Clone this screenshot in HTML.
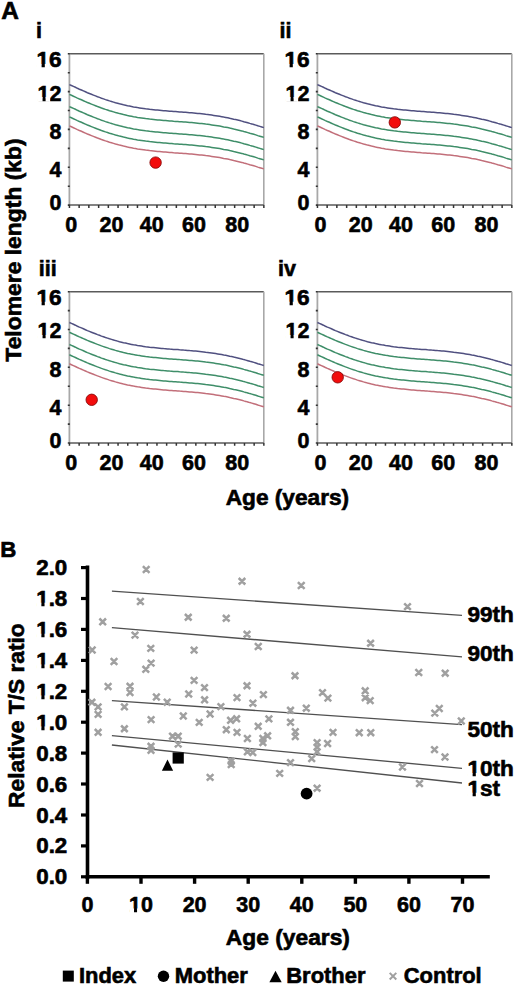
<!DOCTYPE html>
<html><head><meta charset="utf-8"><style>
html,body{margin:0;padding:0;background:#fff;}
svg{display:block;}
text{font-family:"Liberation Sans",sans-serif;font-weight:bold;fill:#000;stroke:#000;stroke-width:0.6px;}
</style></head><body>
<svg width="520" height="986" viewBox="0 0 520 986">
<rect width="520" height="986" fill="#fff"/>
<g transform="translate(0,0)">
<line x1="69.4" y1="53.8" x2="263.8" y2="53.8" stroke="#5a5a5a" stroke-width="1.4"/>
<line x1="263.8" y1="53.8" x2="263.8" y2="205.1" stroke="#a8a8a8" stroke-width="1.6"/>
<line x1="69.4" y1="53.8" x2="69.4" y2="205.1" stroke="#a8a8a8" stroke-width="1.8"/>
<line x1="69.4" y1="205.1" x2="263.8" y2="205.1" stroke="#5a5a5a" stroke-width="1.5"/>
<path d="M67.8,204.3h2v1.6h-2zM67.8,185.4h2v1.6h-2zM67.8,166.5h2v1.6h-2zM67.8,147.6h2v1.6h-2zM67.8,128.6h2v1.6h-2zM67.8,109.7h2v1.6h-2zM67.8,90.8h2v1.6h-2zM67.8,71.9h2v1.6h-2zM67.8,53.0h2v1.6h-2zM68.7,205.1h1.5v2.8h-1.5zM78.4,205.1h1.5v2.8h-1.5zM88.1,205.1h1.5v2.8h-1.5zM97.9,205.1h1.5v2.8h-1.5zM107.6,205.1h1.5v2.8h-1.5zM117.3,205.1h1.5v2.8h-1.5zM127.0,205.1h1.5v2.8h-1.5zM136.7,205.1h1.5v2.8h-1.5zM146.5,205.1h1.5v2.8h-1.5zM156.2,205.1h1.5v2.8h-1.5zM165.9,205.1h1.5v2.8h-1.5zM175.6,205.1h1.5v2.8h-1.5zM185.3,205.1h1.5v2.8h-1.5zM195.1,205.1h1.5v2.8h-1.5zM204.8,205.1h1.5v2.8h-1.5zM214.5,205.1h1.5v2.8h-1.5zM224.2,205.1h1.5v2.8h-1.5zM233.9,205.1h1.5v2.8h-1.5zM243.7,205.1h1.5v2.8h-1.5zM253.4,205.1h1.5v2.8h-1.5zM263.1,205.1h1.5v2.8h-1.5z" fill="#333"/>
<polyline points="69.4,84.6 71.4,85.5 73.4,86.4 75.4,87.3 77.4,88.3 79.4,89.2 81.4,90.0 83.4,90.9 85.4,91.8 87.4,92.7 89.4,93.5 91.4,94.3 93.4,95.1 95.5,95.9 97.5,96.7 99.5,97.4 101.5,98.2 103.5,98.9 105.5,99.6 107.5,100.2 109.5,100.9 111.5,101.5 113.5,102.1 115.5,102.7 117.5,103.2 119.5,103.8 121.5,104.3 123.5,104.8 125.5,105.2 127.5,105.7 129.5,106.1 131.5,106.5 133.5,106.9 135.5,107.2 137.5,107.6 139.5,107.9 141.5,108.2 143.6,108.5 145.6,108.8 147.6,109.0 149.6,109.3 151.6,109.5 153.6,109.7 155.6,109.9 157.6,110.1 159.6,110.3 161.6,110.5 163.6,110.7 165.6,110.8 167.6,111.0 169.6,111.2 171.6,111.3 173.6,111.5 175.6,111.6 177.6,111.7 179.6,111.9 181.6,112.0 183.6,112.2 185.6,112.3 187.6,112.5 189.6,112.7 191.7,112.8 193.7,113.0 195.7,113.2 197.7,113.4 199.7,113.6 201.7,113.8 203.7,114.0 205.7,114.3 207.7,114.5 209.7,114.8 211.7,115.1 213.7,115.4 215.7,115.7 217.7,116.0 219.7,116.3 221.7,116.7 223.7,117.1 225.7,117.4 227.7,117.8 229.7,118.3 231.7,118.7 233.7,119.2 235.7,119.6 237.7,120.1 239.8,120.6 241.8,121.1 243.8,121.7 245.8,122.2 247.8,122.8 249.8,123.4 251.8,123.9 253.8,124.5 255.8,125.1 257.8,125.8 259.8,126.4 261.8,127.0 263.8,127.6" fill="none" stroke="#505080" stroke-width="1.5"/>
<polyline points="69.4,94.4 71.4,95.3 73.4,96.2 75.4,97.1 77.4,98.1 79.4,99.0 81.4,99.8 83.4,100.7 85.4,101.6 87.4,102.5 89.4,103.3 91.4,104.1 93.4,104.9 95.5,105.7 97.5,106.5 99.5,107.2 101.5,108.0 103.5,108.7 105.5,109.4 107.5,110.0 109.5,110.7 111.5,111.3 113.5,111.9 115.5,112.5 117.5,113.0 119.5,113.6 121.5,114.1 123.5,114.6 125.5,115.0 127.5,115.5 129.5,115.9 131.5,116.3 133.5,116.7 135.5,117.0 137.5,117.4 139.5,117.7 141.5,118.0 143.6,118.3 145.6,118.6 147.6,118.8 149.6,119.1 151.6,119.3 153.6,119.5 155.6,119.7 157.6,119.9 159.6,120.1 161.6,120.3 163.6,120.5 165.6,120.6 167.6,120.8 169.6,121.0 171.6,121.1 173.6,121.3 175.6,121.4 177.6,121.5 179.6,121.7 181.6,121.8 183.6,122.0 185.6,122.1 187.6,122.3 189.6,122.5 191.7,122.6 193.7,122.8 195.7,123.0 197.7,123.2 199.7,123.4 201.7,123.6 203.7,123.8 205.7,124.1 207.7,124.3 209.7,124.6 211.7,124.9 213.7,125.2 215.7,125.5 217.7,125.8 219.7,126.1 221.7,126.5 223.7,126.9 225.7,127.2 227.7,127.6 229.7,128.1 231.7,128.5 233.7,129.0 235.7,129.4 237.7,129.9 239.8,130.4 241.8,130.9 243.8,131.5 245.8,132.0 247.8,132.6 249.8,133.2 251.8,133.7 253.8,134.3 255.8,134.9 257.8,135.6 259.8,136.2 261.8,136.8 263.8,137.4" fill="none" stroke="#3f8e69" stroke-width="1.5"/>
<polyline points="69.4,106.6 71.4,107.5 73.4,108.4 75.4,109.3 77.4,110.3 79.4,111.2 81.4,112.0 83.4,112.9 85.4,113.8 87.4,114.7 89.4,115.5 91.4,116.3 93.4,117.1 95.5,117.9 97.5,118.7 99.5,119.4 101.5,120.2 103.5,120.9 105.5,121.6 107.5,122.2 109.5,122.9 111.5,123.5 113.5,124.1 115.5,124.7 117.5,125.2 119.5,125.8 121.5,126.3 123.5,126.8 125.5,127.2 127.5,127.7 129.5,128.1 131.5,128.5 133.5,128.9 135.5,129.2 137.5,129.6 139.5,129.9 141.5,130.2 143.6,130.5 145.6,130.8 147.6,131.0 149.6,131.3 151.6,131.5 153.6,131.7 155.6,131.9 157.6,132.1 159.6,132.3 161.6,132.5 163.6,132.7 165.6,132.8 167.6,133.0 169.6,133.2 171.6,133.3 173.6,133.5 175.6,133.6 177.6,133.7 179.6,133.9 181.6,134.0 183.6,134.2 185.6,134.3 187.6,134.5 189.6,134.7 191.7,134.8 193.7,135.0 195.7,135.2 197.7,135.4 199.7,135.6 201.7,135.8 203.7,136.0 205.7,136.3 207.7,136.5 209.7,136.8 211.7,137.1 213.7,137.4 215.7,137.7 217.7,138.0 219.7,138.3 221.7,138.7 223.7,139.1 225.7,139.4 227.7,139.8 229.7,140.3 231.7,140.7 233.7,141.2 235.7,141.6 237.7,142.1 239.8,142.6 241.8,143.1 243.8,143.7 245.8,144.2 247.8,144.8 249.8,145.4 251.8,145.9 253.8,146.5 255.8,147.1 257.8,147.8 259.8,148.4 261.8,149.0 263.8,149.6" fill="none" stroke="#3f8e69" stroke-width="1.5"/>
<polyline points="69.4,116.9 71.4,117.8 73.4,118.7 75.4,119.6 77.4,120.6 79.4,121.5 81.4,122.3 83.4,123.2 85.4,124.1 87.4,125.0 89.4,125.8 91.4,126.6 93.4,127.4 95.5,128.2 97.5,129.0 99.5,129.7 101.5,130.5 103.5,131.2 105.5,131.9 107.5,132.5 109.5,133.2 111.5,133.8 113.5,134.4 115.5,135.0 117.5,135.5 119.5,136.1 121.5,136.6 123.5,137.1 125.5,137.5 127.5,138.0 129.5,138.4 131.5,138.8 133.5,139.2 135.5,139.5 137.5,139.9 139.5,140.2 141.5,140.5 143.6,140.8 145.6,141.1 147.6,141.3 149.6,141.6 151.6,141.8 153.6,142.0 155.6,142.2 157.6,142.4 159.6,142.6 161.6,142.8 163.6,143.0 165.6,143.1 167.6,143.3 169.6,143.5 171.6,143.6 173.6,143.8 175.6,143.9 177.6,144.0 179.6,144.2 181.6,144.3 183.6,144.5 185.6,144.6 187.6,144.8 189.6,145.0 191.7,145.1 193.7,145.3 195.7,145.5 197.7,145.7 199.7,145.9 201.7,146.1 203.7,146.3 205.7,146.6 207.7,146.8 209.7,147.1 211.7,147.4 213.7,147.7 215.7,148.0 217.7,148.3 219.7,148.6 221.7,149.0 223.7,149.4 225.7,149.7 227.7,150.1 229.7,150.6 231.7,151.0 233.7,151.5 235.7,151.9 237.7,152.4 239.8,152.9 241.8,153.4 243.8,154.0 245.8,154.5 247.8,155.1 249.8,155.7 251.8,156.2 253.8,156.8 255.8,157.4 257.8,158.1 259.8,158.7 261.8,159.3 263.8,159.9" fill="none" stroke="#3f8e69" stroke-width="1.5"/>
<polyline points="69.4,125.9 71.4,126.8 73.4,127.7 75.4,128.6 77.4,129.6 79.4,130.5 81.4,131.3 83.4,132.2 85.4,133.1 87.4,134.0 89.4,134.8 91.4,135.6 93.4,136.4 95.5,137.2 97.5,138.0 99.5,138.7 101.5,139.5 103.5,140.2 105.5,140.9 107.5,141.5 109.5,142.2 111.5,142.8 113.5,143.4 115.5,144.0 117.5,144.5 119.5,145.1 121.5,145.6 123.5,146.1 125.5,146.5 127.5,147.0 129.5,147.4 131.5,147.8 133.5,148.2 135.5,148.5 137.5,148.9 139.5,149.2 141.5,149.5 143.6,149.8 145.6,150.1 147.6,150.3 149.6,150.6 151.6,150.8 153.6,151.0 155.6,151.2 157.6,151.4 159.6,151.6 161.6,151.8 163.6,152.0 165.6,152.1 167.6,152.3 169.6,152.5 171.6,152.6 173.6,152.8 175.6,152.9 177.6,153.0 179.6,153.2 181.6,153.3 183.6,153.5 185.6,153.6 187.6,153.8 189.6,154.0 191.7,154.1 193.7,154.3 195.7,154.5 197.7,154.7 199.7,154.9 201.7,155.1 203.7,155.3 205.7,155.6 207.7,155.8 209.7,156.1 211.7,156.4 213.7,156.7 215.7,157.0 217.7,157.3 219.7,157.6 221.7,158.0 223.7,158.4 225.7,158.7 227.7,159.1 229.7,159.6 231.7,160.0 233.7,160.5 235.7,160.9 237.7,161.4 239.8,161.9 241.8,162.4 243.8,163.0 245.8,163.5 247.8,164.1 249.8,164.7 251.8,165.2 253.8,165.8 255.8,166.4 257.8,167.1 259.8,167.7 261.8,168.3 263.8,168.9" fill="none" stroke="#c26f7a" stroke-width="1.5"/>
</g>
<text transform="translate(61.50,67.30) scale(1.050,1.030)" text-anchor="end" font-size="21.5">16</text>
<text transform="translate(61.50,100.50) scale(1.000,1.030)" text-anchor="end" font-size="21.5">12</text>
<text transform="translate(61.50,139.20) scale(1.000,1.030)" text-anchor="end" font-size="21.5">8</text>
<text transform="translate(61.50,177.20) scale(1.000,1.030)" text-anchor="end" font-size="21.5">4</text>
<text transform="translate(61.50,210.30) scale(1.000,1.030)" text-anchor="end" font-size="21.5">0</text>
<text transform="translate(71.10,231.60) scale(1.000,1.030)" text-anchor="middle" font-size="21.5">0</text>
<text transform="translate(111.50,231.60) scale(1.000,1.030)" text-anchor="middle" font-size="21.5">20</text>
<text transform="translate(151.70,231.60) scale(1.000,1.030)" text-anchor="middle" font-size="21.5">40</text>
<text transform="translate(194.00,231.60) scale(1.000,1.030)" text-anchor="middle" font-size="21.5">60</text>
<text transform="translate(237.20,231.60) scale(1.000,1.030)" text-anchor="middle" font-size="21.5">80</text>
<text transform="translate(36.00,38.00) scale(1.000,1.030)" font-size="21.5">i</text>
<circle cx="155.6" cy="162.6" r="5.7" fill="#f20c0c" stroke="#8a0a0a" stroke-width="0.9"/>
<g transform="translate(248,0)">
<line x1="69.4" y1="53.8" x2="263.8" y2="53.8" stroke="#5a5a5a" stroke-width="1.4"/>
<line x1="263.8" y1="53.8" x2="263.8" y2="205.1" stroke="#a8a8a8" stroke-width="1.6"/>
<line x1="69.4" y1="53.8" x2="69.4" y2="205.1" stroke="#a8a8a8" stroke-width="1.8"/>
<line x1="69.4" y1="205.1" x2="263.8" y2="205.1" stroke="#5a5a5a" stroke-width="1.5"/>
<path d="M67.8,204.3h2v1.6h-2zM67.8,185.4h2v1.6h-2zM67.8,166.5h2v1.6h-2zM67.8,147.6h2v1.6h-2zM67.8,128.6h2v1.6h-2zM67.8,109.7h2v1.6h-2zM67.8,90.8h2v1.6h-2zM67.8,71.9h2v1.6h-2zM67.8,53.0h2v1.6h-2zM68.7,205.1h1.5v2.8h-1.5zM78.4,205.1h1.5v2.8h-1.5zM88.1,205.1h1.5v2.8h-1.5zM97.9,205.1h1.5v2.8h-1.5zM107.6,205.1h1.5v2.8h-1.5zM117.3,205.1h1.5v2.8h-1.5zM127.0,205.1h1.5v2.8h-1.5zM136.7,205.1h1.5v2.8h-1.5zM146.5,205.1h1.5v2.8h-1.5zM156.2,205.1h1.5v2.8h-1.5zM165.9,205.1h1.5v2.8h-1.5zM175.6,205.1h1.5v2.8h-1.5zM185.3,205.1h1.5v2.8h-1.5zM195.1,205.1h1.5v2.8h-1.5zM204.8,205.1h1.5v2.8h-1.5zM214.5,205.1h1.5v2.8h-1.5zM224.2,205.1h1.5v2.8h-1.5zM233.9,205.1h1.5v2.8h-1.5zM243.7,205.1h1.5v2.8h-1.5zM253.4,205.1h1.5v2.8h-1.5zM263.1,205.1h1.5v2.8h-1.5z" fill="#333"/>
<polyline points="69.4,84.6 71.4,85.5 73.4,86.4 75.4,87.3 77.4,88.3 79.4,89.2 81.4,90.0 83.4,90.9 85.4,91.8 87.4,92.7 89.4,93.5 91.4,94.3 93.4,95.1 95.5,95.9 97.5,96.7 99.5,97.4 101.5,98.2 103.5,98.9 105.5,99.6 107.5,100.2 109.5,100.9 111.5,101.5 113.5,102.1 115.5,102.7 117.5,103.2 119.5,103.8 121.5,104.3 123.5,104.8 125.5,105.2 127.5,105.7 129.5,106.1 131.5,106.5 133.5,106.9 135.5,107.2 137.5,107.6 139.5,107.9 141.5,108.2 143.6,108.5 145.6,108.8 147.6,109.0 149.6,109.3 151.6,109.5 153.6,109.7 155.6,109.9 157.6,110.1 159.6,110.3 161.6,110.5 163.6,110.7 165.6,110.8 167.6,111.0 169.6,111.2 171.6,111.3 173.6,111.5 175.6,111.6 177.6,111.7 179.6,111.9 181.6,112.0 183.6,112.2 185.6,112.3 187.6,112.5 189.6,112.7 191.7,112.8 193.7,113.0 195.7,113.2 197.7,113.4 199.7,113.6 201.7,113.8 203.7,114.0 205.7,114.3 207.7,114.5 209.7,114.8 211.7,115.1 213.7,115.4 215.7,115.7 217.7,116.0 219.7,116.3 221.7,116.7 223.7,117.1 225.7,117.4 227.7,117.8 229.7,118.3 231.7,118.7 233.7,119.2 235.7,119.6 237.7,120.1 239.8,120.6 241.8,121.1 243.8,121.7 245.8,122.2 247.8,122.8 249.8,123.4 251.8,123.9 253.8,124.5 255.8,125.1 257.8,125.8 259.8,126.4 261.8,127.0 263.8,127.6" fill="none" stroke="#505080" stroke-width="1.5"/>
<polyline points="69.4,94.4 71.4,95.3 73.4,96.2 75.4,97.1 77.4,98.1 79.4,99.0 81.4,99.8 83.4,100.7 85.4,101.6 87.4,102.5 89.4,103.3 91.4,104.1 93.4,104.9 95.5,105.7 97.5,106.5 99.5,107.2 101.5,108.0 103.5,108.7 105.5,109.4 107.5,110.0 109.5,110.7 111.5,111.3 113.5,111.9 115.5,112.5 117.5,113.0 119.5,113.6 121.5,114.1 123.5,114.6 125.5,115.0 127.5,115.5 129.5,115.9 131.5,116.3 133.5,116.7 135.5,117.0 137.5,117.4 139.5,117.7 141.5,118.0 143.6,118.3 145.6,118.6 147.6,118.8 149.6,119.1 151.6,119.3 153.6,119.5 155.6,119.7 157.6,119.9 159.6,120.1 161.6,120.3 163.6,120.5 165.6,120.6 167.6,120.8 169.6,121.0 171.6,121.1 173.6,121.3 175.6,121.4 177.6,121.5 179.6,121.7 181.6,121.8 183.6,122.0 185.6,122.1 187.6,122.3 189.6,122.5 191.7,122.6 193.7,122.8 195.7,123.0 197.7,123.2 199.7,123.4 201.7,123.6 203.7,123.8 205.7,124.1 207.7,124.3 209.7,124.6 211.7,124.9 213.7,125.2 215.7,125.5 217.7,125.8 219.7,126.1 221.7,126.5 223.7,126.9 225.7,127.2 227.7,127.6 229.7,128.1 231.7,128.5 233.7,129.0 235.7,129.4 237.7,129.9 239.8,130.4 241.8,130.9 243.8,131.5 245.8,132.0 247.8,132.6 249.8,133.2 251.8,133.7 253.8,134.3 255.8,134.9 257.8,135.6 259.8,136.2 261.8,136.8 263.8,137.4" fill="none" stroke="#3f8e69" stroke-width="1.5"/>
<polyline points="69.4,106.6 71.4,107.5 73.4,108.4 75.4,109.3 77.4,110.3 79.4,111.2 81.4,112.0 83.4,112.9 85.4,113.8 87.4,114.7 89.4,115.5 91.4,116.3 93.4,117.1 95.5,117.9 97.5,118.7 99.5,119.4 101.5,120.2 103.5,120.9 105.5,121.6 107.5,122.2 109.5,122.9 111.5,123.5 113.5,124.1 115.5,124.7 117.5,125.2 119.5,125.8 121.5,126.3 123.5,126.8 125.5,127.2 127.5,127.7 129.5,128.1 131.5,128.5 133.5,128.9 135.5,129.2 137.5,129.6 139.5,129.9 141.5,130.2 143.6,130.5 145.6,130.8 147.6,131.0 149.6,131.3 151.6,131.5 153.6,131.7 155.6,131.9 157.6,132.1 159.6,132.3 161.6,132.5 163.6,132.7 165.6,132.8 167.6,133.0 169.6,133.2 171.6,133.3 173.6,133.5 175.6,133.6 177.6,133.7 179.6,133.9 181.6,134.0 183.6,134.2 185.6,134.3 187.6,134.5 189.6,134.7 191.7,134.8 193.7,135.0 195.7,135.2 197.7,135.4 199.7,135.6 201.7,135.8 203.7,136.0 205.7,136.3 207.7,136.5 209.7,136.8 211.7,137.1 213.7,137.4 215.7,137.7 217.7,138.0 219.7,138.3 221.7,138.7 223.7,139.1 225.7,139.4 227.7,139.8 229.7,140.3 231.7,140.7 233.7,141.2 235.7,141.6 237.7,142.1 239.8,142.6 241.8,143.1 243.8,143.7 245.8,144.2 247.8,144.8 249.8,145.4 251.8,145.9 253.8,146.5 255.8,147.1 257.8,147.8 259.8,148.4 261.8,149.0 263.8,149.6" fill="none" stroke="#3f8e69" stroke-width="1.5"/>
<polyline points="69.4,116.9 71.4,117.8 73.4,118.7 75.4,119.6 77.4,120.6 79.4,121.5 81.4,122.3 83.4,123.2 85.4,124.1 87.4,125.0 89.4,125.8 91.4,126.6 93.4,127.4 95.5,128.2 97.5,129.0 99.5,129.7 101.5,130.5 103.5,131.2 105.5,131.9 107.5,132.5 109.5,133.2 111.5,133.8 113.5,134.4 115.5,135.0 117.5,135.5 119.5,136.1 121.5,136.6 123.5,137.1 125.5,137.5 127.5,138.0 129.5,138.4 131.5,138.8 133.5,139.2 135.5,139.5 137.5,139.9 139.5,140.2 141.5,140.5 143.6,140.8 145.6,141.1 147.6,141.3 149.6,141.6 151.6,141.8 153.6,142.0 155.6,142.2 157.6,142.4 159.6,142.6 161.6,142.8 163.6,143.0 165.6,143.1 167.6,143.3 169.6,143.5 171.6,143.6 173.6,143.8 175.6,143.9 177.6,144.0 179.6,144.2 181.6,144.3 183.6,144.5 185.6,144.6 187.6,144.8 189.6,145.0 191.7,145.1 193.7,145.3 195.7,145.5 197.7,145.7 199.7,145.9 201.7,146.1 203.7,146.3 205.7,146.6 207.7,146.8 209.7,147.1 211.7,147.4 213.7,147.7 215.7,148.0 217.7,148.3 219.7,148.6 221.7,149.0 223.7,149.4 225.7,149.7 227.7,150.1 229.7,150.6 231.7,151.0 233.7,151.5 235.7,151.9 237.7,152.4 239.8,152.9 241.8,153.4 243.8,154.0 245.8,154.5 247.8,155.1 249.8,155.7 251.8,156.2 253.8,156.8 255.8,157.4 257.8,158.1 259.8,158.7 261.8,159.3 263.8,159.9" fill="none" stroke="#3f8e69" stroke-width="1.5"/>
<polyline points="69.4,125.9 71.4,126.8 73.4,127.7 75.4,128.6 77.4,129.6 79.4,130.5 81.4,131.3 83.4,132.2 85.4,133.1 87.4,134.0 89.4,134.8 91.4,135.6 93.4,136.4 95.5,137.2 97.5,138.0 99.5,138.7 101.5,139.5 103.5,140.2 105.5,140.9 107.5,141.5 109.5,142.2 111.5,142.8 113.5,143.4 115.5,144.0 117.5,144.5 119.5,145.1 121.5,145.6 123.5,146.1 125.5,146.5 127.5,147.0 129.5,147.4 131.5,147.8 133.5,148.2 135.5,148.5 137.5,148.9 139.5,149.2 141.5,149.5 143.6,149.8 145.6,150.1 147.6,150.3 149.6,150.6 151.6,150.8 153.6,151.0 155.6,151.2 157.6,151.4 159.6,151.6 161.6,151.8 163.6,152.0 165.6,152.1 167.6,152.3 169.6,152.5 171.6,152.6 173.6,152.8 175.6,152.9 177.6,153.0 179.6,153.2 181.6,153.3 183.6,153.5 185.6,153.6 187.6,153.8 189.6,154.0 191.7,154.1 193.7,154.3 195.7,154.5 197.7,154.7 199.7,154.9 201.7,155.1 203.7,155.3 205.7,155.6 207.7,155.8 209.7,156.1 211.7,156.4 213.7,156.7 215.7,157.0 217.7,157.3 219.7,157.6 221.7,158.0 223.7,158.4 225.7,158.7 227.7,159.1 229.7,159.6 231.7,160.0 233.7,160.5 235.7,160.9 237.7,161.4 239.8,161.9 241.8,162.4 243.8,163.0 245.8,163.5 247.8,164.1 249.8,164.7 251.8,165.2 253.8,165.8 255.8,166.4 257.8,167.1 259.8,167.7 261.8,168.3 263.8,168.9" fill="none" stroke="#c26f7a" stroke-width="1.5"/>
</g>
<text transform="translate(309.50,67.30) scale(1.050,1.030)" text-anchor="end" font-size="21.5">16</text>
<text transform="translate(309.50,100.50) scale(1.000,1.030)" text-anchor="end" font-size="21.5">12</text>
<text transform="translate(309.50,139.20) scale(1.000,1.030)" text-anchor="end" font-size="21.5">8</text>
<text transform="translate(309.50,177.20) scale(1.000,1.030)" text-anchor="end" font-size="21.5">4</text>
<text transform="translate(309.50,210.30) scale(1.000,1.030)" text-anchor="end" font-size="21.5">0</text>
<text transform="translate(320.40,231.60) scale(1.000,1.030)" text-anchor="middle" font-size="21.5">0</text>
<text transform="translate(360.80,231.60) scale(1.000,1.030)" text-anchor="middle" font-size="21.5">20</text>
<text transform="translate(401.00,231.60) scale(1.000,1.030)" text-anchor="middle" font-size="21.5">40</text>
<text transform="translate(443.30,231.60) scale(1.000,1.030)" text-anchor="middle" font-size="21.5">60</text>
<text transform="translate(486.50,231.60) scale(1.000,1.030)" text-anchor="middle" font-size="21.5">80</text>
<text transform="translate(279.50,38.30) scale(1.000,1.030)" font-size="21.5">ii</text>
<circle cx="394.8" cy="122.4" r="5.7" fill="#f20c0c" stroke="#8a0a0a" stroke-width="0.9"/>
<g transform="translate(0,237.9)">
<line x1="69.4" y1="53.8" x2="263.8" y2="53.8" stroke="#5a5a5a" stroke-width="1.4"/>
<line x1="263.8" y1="53.8" x2="263.8" y2="205.1" stroke="#a8a8a8" stroke-width="1.6"/>
<line x1="69.4" y1="53.8" x2="69.4" y2="205.1" stroke="#a8a8a8" stroke-width="1.8"/>
<line x1="69.4" y1="205.1" x2="263.8" y2="205.1" stroke="#5a5a5a" stroke-width="1.5"/>
<path d="M67.8,204.3h2v1.6h-2zM67.8,185.4h2v1.6h-2zM67.8,166.5h2v1.6h-2zM67.8,147.6h2v1.6h-2zM67.8,128.6h2v1.6h-2zM67.8,109.7h2v1.6h-2zM67.8,90.8h2v1.6h-2zM67.8,71.9h2v1.6h-2zM67.8,53.0h2v1.6h-2zM68.7,205.1h1.5v2.8h-1.5zM78.4,205.1h1.5v2.8h-1.5zM88.1,205.1h1.5v2.8h-1.5zM97.9,205.1h1.5v2.8h-1.5zM107.6,205.1h1.5v2.8h-1.5zM117.3,205.1h1.5v2.8h-1.5zM127.0,205.1h1.5v2.8h-1.5zM136.7,205.1h1.5v2.8h-1.5zM146.5,205.1h1.5v2.8h-1.5zM156.2,205.1h1.5v2.8h-1.5zM165.9,205.1h1.5v2.8h-1.5zM175.6,205.1h1.5v2.8h-1.5zM185.3,205.1h1.5v2.8h-1.5zM195.1,205.1h1.5v2.8h-1.5zM204.8,205.1h1.5v2.8h-1.5zM214.5,205.1h1.5v2.8h-1.5zM224.2,205.1h1.5v2.8h-1.5zM233.9,205.1h1.5v2.8h-1.5zM243.7,205.1h1.5v2.8h-1.5zM253.4,205.1h1.5v2.8h-1.5zM263.1,205.1h1.5v2.8h-1.5z" fill="#333"/>
<polyline points="69.4,84.6 71.4,85.5 73.4,86.4 75.4,87.3 77.4,88.3 79.4,89.2 81.4,90.0 83.4,90.9 85.4,91.8 87.4,92.7 89.4,93.5 91.4,94.3 93.4,95.1 95.5,95.9 97.5,96.7 99.5,97.4 101.5,98.2 103.5,98.9 105.5,99.6 107.5,100.2 109.5,100.9 111.5,101.5 113.5,102.1 115.5,102.7 117.5,103.2 119.5,103.8 121.5,104.3 123.5,104.8 125.5,105.2 127.5,105.7 129.5,106.1 131.5,106.5 133.5,106.9 135.5,107.2 137.5,107.6 139.5,107.9 141.5,108.2 143.6,108.5 145.6,108.8 147.6,109.0 149.6,109.3 151.6,109.5 153.6,109.7 155.6,109.9 157.6,110.1 159.6,110.3 161.6,110.5 163.6,110.7 165.6,110.8 167.6,111.0 169.6,111.2 171.6,111.3 173.6,111.5 175.6,111.6 177.6,111.7 179.6,111.9 181.6,112.0 183.6,112.2 185.6,112.3 187.6,112.5 189.6,112.7 191.7,112.8 193.7,113.0 195.7,113.2 197.7,113.4 199.7,113.6 201.7,113.8 203.7,114.0 205.7,114.3 207.7,114.5 209.7,114.8 211.7,115.1 213.7,115.4 215.7,115.7 217.7,116.0 219.7,116.3 221.7,116.7 223.7,117.1 225.7,117.4 227.7,117.8 229.7,118.3 231.7,118.7 233.7,119.2 235.7,119.6 237.7,120.1 239.8,120.6 241.8,121.1 243.8,121.7 245.8,122.2 247.8,122.8 249.8,123.4 251.8,123.9 253.8,124.5 255.8,125.1 257.8,125.8 259.8,126.4 261.8,127.0 263.8,127.6" fill="none" stroke="#505080" stroke-width="1.5"/>
<polyline points="69.4,94.4 71.4,95.3 73.4,96.2 75.4,97.1 77.4,98.1 79.4,99.0 81.4,99.8 83.4,100.7 85.4,101.6 87.4,102.5 89.4,103.3 91.4,104.1 93.4,104.9 95.5,105.7 97.5,106.5 99.5,107.2 101.5,108.0 103.5,108.7 105.5,109.4 107.5,110.0 109.5,110.7 111.5,111.3 113.5,111.9 115.5,112.5 117.5,113.0 119.5,113.6 121.5,114.1 123.5,114.6 125.5,115.0 127.5,115.5 129.5,115.9 131.5,116.3 133.5,116.7 135.5,117.0 137.5,117.4 139.5,117.7 141.5,118.0 143.6,118.3 145.6,118.6 147.6,118.8 149.6,119.1 151.6,119.3 153.6,119.5 155.6,119.7 157.6,119.9 159.6,120.1 161.6,120.3 163.6,120.5 165.6,120.6 167.6,120.8 169.6,121.0 171.6,121.1 173.6,121.3 175.6,121.4 177.6,121.5 179.6,121.7 181.6,121.8 183.6,122.0 185.6,122.1 187.6,122.3 189.6,122.5 191.7,122.6 193.7,122.8 195.7,123.0 197.7,123.2 199.7,123.4 201.7,123.6 203.7,123.8 205.7,124.1 207.7,124.3 209.7,124.6 211.7,124.9 213.7,125.2 215.7,125.5 217.7,125.8 219.7,126.1 221.7,126.5 223.7,126.9 225.7,127.2 227.7,127.6 229.7,128.1 231.7,128.5 233.7,129.0 235.7,129.4 237.7,129.9 239.8,130.4 241.8,130.9 243.8,131.5 245.8,132.0 247.8,132.6 249.8,133.2 251.8,133.7 253.8,134.3 255.8,134.9 257.8,135.6 259.8,136.2 261.8,136.8 263.8,137.4" fill="none" stroke="#3f8e69" stroke-width="1.5"/>
<polyline points="69.4,106.6 71.4,107.5 73.4,108.4 75.4,109.3 77.4,110.3 79.4,111.2 81.4,112.0 83.4,112.9 85.4,113.8 87.4,114.7 89.4,115.5 91.4,116.3 93.4,117.1 95.5,117.9 97.5,118.7 99.5,119.4 101.5,120.2 103.5,120.9 105.5,121.6 107.5,122.2 109.5,122.9 111.5,123.5 113.5,124.1 115.5,124.7 117.5,125.2 119.5,125.8 121.5,126.3 123.5,126.8 125.5,127.2 127.5,127.7 129.5,128.1 131.5,128.5 133.5,128.9 135.5,129.2 137.5,129.6 139.5,129.9 141.5,130.2 143.6,130.5 145.6,130.8 147.6,131.0 149.6,131.3 151.6,131.5 153.6,131.7 155.6,131.9 157.6,132.1 159.6,132.3 161.6,132.5 163.6,132.7 165.6,132.8 167.6,133.0 169.6,133.2 171.6,133.3 173.6,133.5 175.6,133.6 177.6,133.7 179.6,133.9 181.6,134.0 183.6,134.2 185.6,134.3 187.6,134.5 189.6,134.7 191.7,134.8 193.7,135.0 195.7,135.2 197.7,135.4 199.7,135.6 201.7,135.8 203.7,136.0 205.7,136.3 207.7,136.5 209.7,136.8 211.7,137.1 213.7,137.4 215.7,137.7 217.7,138.0 219.7,138.3 221.7,138.7 223.7,139.1 225.7,139.4 227.7,139.8 229.7,140.3 231.7,140.7 233.7,141.2 235.7,141.6 237.7,142.1 239.8,142.6 241.8,143.1 243.8,143.7 245.8,144.2 247.8,144.8 249.8,145.4 251.8,145.9 253.8,146.5 255.8,147.1 257.8,147.8 259.8,148.4 261.8,149.0 263.8,149.6" fill="none" stroke="#3f8e69" stroke-width="1.5"/>
<polyline points="69.4,116.9 71.4,117.8 73.4,118.7 75.4,119.6 77.4,120.6 79.4,121.5 81.4,122.3 83.4,123.2 85.4,124.1 87.4,125.0 89.4,125.8 91.4,126.6 93.4,127.4 95.5,128.2 97.5,129.0 99.5,129.7 101.5,130.5 103.5,131.2 105.5,131.9 107.5,132.5 109.5,133.2 111.5,133.8 113.5,134.4 115.5,135.0 117.5,135.5 119.5,136.1 121.5,136.6 123.5,137.1 125.5,137.5 127.5,138.0 129.5,138.4 131.5,138.8 133.5,139.2 135.5,139.5 137.5,139.9 139.5,140.2 141.5,140.5 143.6,140.8 145.6,141.1 147.6,141.3 149.6,141.6 151.6,141.8 153.6,142.0 155.6,142.2 157.6,142.4 159.6,142.6 161.6,142.8 163.6,143.0 165.6,143.1 167.6,143.3 169.6,143.5 171.6,143.6 173.6,143.8 175.6,143.9 177.6,144.0 179.6,144.2 181.6,144.3 183.6,144.5 185.6,144.6 187.6,144.8 189.6,145.0 191.7,145.1 193.7,145.3 195.7,145.5 197.7,145.7 199.7,145.9 201.7,146.1 203.7,146.3 205.7,146.6 207.7,146.8 209.7,147.1 211.7,147.4 213.7,147.7 215.7,148.0 217.7,148.3 219.7,148.6 221.7,149.0 223.7,149.4 225.7,149.7 227.7,150.1 229.7,150.6 231.7,151.0 233.7,151.5 235.7,151.9 237.7,152.4 239.8,152.9 241.8,153.4 243.8,154.0 245.8,154.5 247.8,155.1 249.8,155.7 251.8,156.2 253.8,156.8 255.8,157.4 257.8,158.1 259.8,158.7 261.8,159.3 263.8,159.9" fill="none" stroke="#3f8e69" stroke-width="1.5"/>
<polyline points="69.4,125.9 71.4,126.8 73.4,127.7 75.4,128.6 77.4,129.6 79.4,130.5 81.4,131.3 83.4,132.2 85.4,133.1 87.4,134.0 89.4,134.8 91.4,135.6 93.4,136.4 95.5,137.2 97.5,138.0 99.5,138.7 101.5,139.5 103.5,140.2 105.5,140.9 107.5,141.5 109.5,142.2 111.5,142.8 113.5,143.4 115.5,144.0 117.5,144.5 119.5,145.1 121.5,145.6 123.5,146.1 125.5,146.5 127.5,147.0 129.5,147.4 131.5,147.8 133.5,148.2 135.5,148.5 137.5,148.9 139.5,149.2 141.5,149.5 143.6,149.8 145.6,150.1 147.6,150.3 149.6,150.6 151.6,150.8 153.6,151.0 155.6,151.2 157.6,151.4 159.6,151.6 161.6,151.8 163.6,152.0 165.6,152.1 167.6,152.3 169.6,152.5 171.6,152.6 173.6,152.8 175.6,152.9 177.6,153.0 179.6,153.2 181.6,153.3 183.6,153.5 185.6,153.6 187.6,153.8 189.6,154.0 191.7,154.1 193.7,154.3 195.7,154.5 197.7,154.7 199.7,154.9 201.7,155.1 203.7,155.3 205.7,155.6 207.7,155.8 209.7,156.1 211.7,156.4 213.7,156.7 215.7,157.0 217.7,157.3 219.7,157.6 221.7,158.0 223.7,158.4 225.7,158.7 227.7,159.1 229.7,159.6 231.7,160.0 233.7,160.5 235.7,160.9 237.7,161.4 239.8,161.9 241.8,162.4 243.8,163.0 245.8,163.5 247.8,164.1 249.8,164.7 251.8,165.2 253.8,165.8 255.8,166.4 257.8,167.1 259.8,167.7 261.8,168.3 263.8,168.9" fill="none" stroke="#c26f7a" stroke-width="1.5"/>
</g>
<text transform="translate(61.50,305.20) scale(1.050,1.030)" text-anchor="end" font-size="21.5">16</text>
<text transform="translate(61.50,338.40) scale(1.000,1.030)" text-anchor="end" font-size="21.5">12</text>
<text transform="translate(61.50,377.10) scale(1.000,1.030)" text-anchor="end" font-size="21.5">8</text>
<text transform="translate(61.50,415.10) scale(1.000,1.030)" text-anchor="end" font-size="21.5">4</text>
<text transform="translate(61.50,448.20) scale(1.000,1.030)" text-anchor="end" font-size="21.5">0</text>
<text transform="translate(71.10,469.50) scale(1.000,1.030)" text-anchor="middle" font-size="21.5">0</text>
<text transform="translate(111.50,469.50) scale(1.000,1.030)" text-anchor="middle" font-size="21.5">20</text>
<text transform="translate(151.70,469.50) scale(1.000,1.030)" text-anchor="middle" font-size="21.5">40</text>
<text transform="translate(194.00,469.50) scale(1.000,1.030)" text-anchor="middle" font-size="21.5">60</text>
<text transform="translate(237.20,469.50) scale(1.000,1.030)" text-anchor="middle" font-size="21.5">80</text>
<text transform="translate(38.80,276.40) scale(1.000,1.030)" font-size="21.5">iii</text>
<circle cx="91.7" cy="399.8" r="5.7" fill="#f20c0c" stroke="#8a0a0a" stroke-width="0.9"/>
<g transform="translate(248,237.9)">
<line x1="69.4" y1="53.8" x2="263.8" y2="53.8" stroke="#5a5a5a" stroke-width="1.4"/>
<line x1="263.8" y1="53.8" x2="263.8" y2="205.1" stroke="#a8a8a8" stroke-width="1.6"/>
<line x1="69.4" y1="53.8" x2="69.4" y2="205.1" stroke="#a8a8a8" stroke-width="1.8"/>
<line x1="69.4" y1="205.1" x2="263.8" y2="205.1" stroke="#5a5a5a" stroke-width="1.5"/>
<path d="M67.8,204.3h2v1.6h-2zM67.8,185.4h2v1.6h-2zM67.8,166.5h2v1.6h-2zM67.8,147.6h2v1.6h-2zM67.8,128.6h2v1.6h-2zM67.8,109.7h2v1.6h-2zM67.8,90.8h2v1.6h-2zM67.8,71.9h2v1.6h-2zM67.8,53.0h2v1.6h-2zM68.7,205.1h1.5v2.8h-1.5zM78.4,205.1h1.5v2.8h-1.5zM88.1,205.1h1.5v2.8h-1.5zM97.9,205.1h1.5v2.8h-1.5zM107.6,205.1h1.5v2.8h-1.5zM117.3,205.1h1.5v2.8h-1.5zM127.0,205.1h1.5v2.8h-1.5zM136.7,205.1h1.5v2.8h-1.5zM146.5,205.1h1.5v2.8h-1.5zM156.2,205.1h1.5v2.8h-1.5zM165.9,205.1h1.5v2.8h-1.5zM175.6,205.1h1.5v2.8h-1.5zM185.3,205.1h1.5v2.8h-1.5zM195.1,205.1h1.5v2.8h-1.5zM204.8,205.1h1.5v2.8h-1.5zM214.5,205.1h1.5v2.8h-1.5zM224.2,205.1h1.5v2.8h-1.5zM233.9,205.1h1.5v2.8h-1.5zM243.7,205.1h1.5v2.8h-1.5zM253.4,205.1h1.5v2.8h-1.5zM263.1,205.1h1.5v2.8h-1.5z" fill="#333"/>
<polyline points="69.4,84.6 71.4,85.5 73.4,86.4 75.4,87.3 77.4,88.3 79.4,89.2 81.4,90.0 83.4,90.9 85.4,91.8 87.4,92.7 89.4,93.5 91.4,94.3 93.4,95.1 95.5,95.9 97.5,96.7 99.5,97.4 101.5,98.2 103.5,98.9 105.5,99.6 107.5,100.2 109.5,100.9 111.5,101.5 113.5,102.1 115.5,102.7 117.5,103.2 119.5,103.8 121.5,104.3 123.5,104.8 125.5,105.2 127.5,105.7 129.5,106.1 131.5,106.5 133.5,106.9 135.5,107.2 137.5,107.6 139.5,107.9 141.5,108.2 143.6,108.5 145.6,108.8 147.6,109.0 149.6,109.3 151.6,109.5 153.6,109.7 155.6,109.9 157.6,110.1 159.6,110.3 161.6,110.5 163.6,110.7 165.6,110.8 167.6,111.0 169.6,111.2 171.6,111.3 173.6,111.5 175.6,111.6 177.6,111.7 179.6,111.9 181.6,112.0 183.6,112.2 185.6,112.3 187.6,112.5 189.6,112.7 191.7,112.8 193.7,113.0 195.7,113.2 197.7,113.4 199.7,113.6 201.7,113.8 203.7,114.0 205.7,114.3 207.7,114.5 209.7,114.8 211.7,115.1 213.7,115.4 215.7,115.7 217.7,116.0 219.7,116.3 221.7,116.7 223.7,117.1 225.7,117.4 227.7,117.8 229.7,118.3 231.7,118.7 233.7,119.2 235.7,119.6 237.7,120.1 239.8,120.6 241.8,121.1 243.8,121.7 245.8,122.2 247.8,122.8 249.8,123.4 251.8,123.9 253.8,124.5 255.8,125.1 257.8,125.8 259.8,126.4 261.8,127.0 263.8,127.6" fill="none" stroke="#505080" stroke-width="1.5"/>
<polyline points="69.4,94.4 71.4,95.3 73.4,96.2 75.4,97.1 77.4,98.1 79.4,99.0 81.4,99.8 83.4,100.7 85.4,101.6 87.4,102.5 89.4,103.3 91.4,104.1 93.4,104.9 95.5,105.7 97.5,106.5 99.5,107.2 101.5,108.0 103.5,108.7 105.5,109.4 107.5,110.0 109.5,110.7 111.5,111.3 113.5,111.9 115.5,112.5 117.5,113.0 119.5,113.6 121.5,114.1 123.5,114.6 125.5,115.0 127.5,115.5 129.5,115.9 131.5,116.3 133.5,116.7 135.5,117.0 137.5,117.4 139.5,117.7 141.5,118.0 143.6,118.3 145.6,118.6 147.6,118.8 149.6,119.1 151.6,119.3 153.6,119.5 155.6,119.7 157.6,119.9 159.6,120.1 161.6,120.3 163.6,120.5 165.6,120.6 167.6,120.8 169.6,121.0 171.6,121.1 173.6,121.3 175.6,121.4 177.6,121.5 179.6,121.7 181.6,121.8 183.6,122.0 185.6,122.1 187.6,122.3 189.6,122.5 191.7,122.6 193.7,122.8 195.7,123.0 197.7,123.2 199.7,123.4 201.7,123.6 203.7,123.8 205.7,124.1 207.7,124.3 209.7,124.6 211.7,124.9 213.7,125.2 215.7,125.5 217.7,125.8 219.7,126.1 221.7,126.5 223.7,126.9 225.7,127.2 227.7,127.6 229.7,128.1 231.7,128.5 233.7,129.0 235.7,129.4 237.7,129.9 239.8,130.4 241.8,130.9 243.8,131.5 245.8,132.0 247.8,132.6 249.8,133.2 251.8,133.7 253.8,134.3 255.8,134.9 257.8,135.6 259.8,136.2 261.8,136.8 263.8,137.4" fill="none" stroke="#3f8e69" stroke-width="1.5"/>
<polyline points="69.4,106.6 71.4,107.5 73.4,108.4 75.4,109.3 77.4,110.3 79.4,111.2 81.4,112.0 83.4,112.9 85.4,113.8 87.4,114.7 89.4,115.5 91.4,116.3 93.4,117.1 95.5,117.9 97.5,118.7 99.5,119.4 101.5,120.2 103.5,120.9 105.5,121.6 107.5,122.2 109.5,122.9 111.5,123.5 113.5,124.1 115.5,124.7 117.5,125.2 119.5,125.8 121.5,126.3 123.5,126.8 125.5,127.2 127.5,127.7 129.5,128.1 131.5,128.5 133.5,128.9 135.5,129.2 137.5,129.6 139.5,129.9 141.5,130.2 143.6,130.5 145.6,130.8 147.6,131.0 149.6,131.3 151.6,131.5 153.6,131.7 155.6,131.9 157.6,132.1 159.6,132.3 161.6,132.5 163.6,132.7 165.6,132.8 167.6,133.0 169.6,133.2 171.6,133.3 173.6,133.5 175.6,133.6 177.6,133.7 179.6,133.9 181.6,134.0 183.6,134.2 185.6,134.3 187.6,134.5 189.6,134.7 191.7,134.8 193.7,135.0 195.7,135.2 197.7,135.4 199.7,135.6 201.7,135.8 203.7,136.0 205.7,136.3 207.7,136.5 209.7,136.8 211.7,137.1 213.7,137.4 215.7,137.7 217.7,138.0 219.7,138.3 221.7,138.7 223.7,139.1 225.7,139.4 227.7,139.8 229.7,140.3 231.7,140.7 233.7,141.2 235.7,141.6 237.7,142.1 239.8,142.6 241.8,143.1 243.8,143.7 245.8,144.2 247.8,144.8 249.8,145.4 251.8,145.9 253.8,146.5 255.8,147.1 257.8,147.8 259.8,148.4 261.8,149.0 263.8,149.6" fill="none" stroke="#3f8e69" stroke-width="1.5"/>
<polyline points="69.4,116.9 71.4,117.8 73.4,118.7 75.4,119.6 77.4,120.6 79.4,121.5 81.4,122.3 83.4,123.2 85.4,124.1 87.4,125.0 89.4,125.8 91.4,126.6 93.4,127.4 95.5,128.2 97.5,129.0 99.5,129.7 101.5,130.5 103.5,131.2 105.5,131.9 107.5,132.5 109.5,133.2 111.5,133.8 113.5,134.4 115.5,135.0 117.5,135.5 119.5,136.1 121.5,136.6 123.5,137.1 125.5,137.5 127.5,138.0 129.5,138.4 131.5,138.8 133.5,139.2 135.5,139.5 137.5,139.9 139.5,140.2 141.5,140.5 143.6,140.8 145.6,141.1 147.6,141.3 149.6,141.6 151.6,141.8 153.6,142.0 155.6,142.2 157.6,142.4 159.6,142.6 161.6,142.8 163.6,143.0 165.6,143.1 167.6,143.3 169.6,143.5 171.6,143.6 173.6,143.8 175.6,143.9 177.6,144.0 179.6,144.2 181.6,144.3 183.6,144.5 185.6,144.6 187.6,144.8 189.6,145.0 191.7,145.1 193.7,145.3 195.7,145.5 197.7,145.7 199.7,145.9 201.7,146.1 203.7,146.3 205.7,146.6 207.7,146.8 209.7,147.1 211.7,147.4 213.7,147.7 215.7,148.0 217.7,148.3 219.7,148.6 221.7,149.0 223.7,149.4 225.7,149.7 227.7,150.1 229.7,150.6 231.7,151.0 233.7,151.5 235.7,151.9 237.7,152.4 239.8,152.9 241.8,153.4 243.8,154.0 245.8,154.5 247.8,155.1 249.8,155.7 251.8,156.2 253.8,156.8 255.8,157.4 257.8,158.1 259.8,158.7 261.8,159.3 263.8,159.9" fill="none" stroke="#3f8e69" stroke-width="1.5"/>
<polyline points="69.4,125.9 71.4,126.8 73.4,127.7 75.4,128.6 77.4,129.6 79.4,130.5 81.4,131.3 83.4,132.2 85.4,133.1 87.4,134.0 89.4,134.8 91.4,135.6 93.4,136.4 95.5,137.2 97.5,138.0 99.5,138.7 101.5,139.5 103.5,140.2 105.5,140.9 107.5,141.5 109.5,142.2 111.5,142.8 113.5,143.4 115.5,144.0 117.5,144.5 119.5,145.1 121.5,145.6 123.5,146.1 125.5,146.5 127.5,147.0 129.5,147.4 131.5,147.8 133.5,148.2 135.5,148.5 137.5,148.9 139.5,149.2 141.5,149.5 143.6,149.8 145.6,150.1 147.6,150.3 149.6,150.6 151.6,150.8 153.6,151.0 155.6,151.2 157.6,151.4 159.6,151.6 161.6,151.8 163.6,152.0 165.6,152.1 167.6,152.3 169.6,152.5 171.6,152.6 173.6,152.8 175.6,152.9 177.6,153.0 179.6,153.2 181.6,153.3 183.6,153.5 185.6,153.6 187.6,153.8 189.6,154.0 191.7,154.1 193.7,154.3 195.7,154.5 197.7,154.7 199.7,154.9 201.7,155.1 203.7,155.3 205.7,155.6 207.7,155.8 209.7,156.1 211.7,156.4 213.7,156.7 215.7,157.0 217.7,157.3 219.7,157.6 221.7,158.0 223.7,158.4 225.7,158.7 227.7,159.1 229.7,159.6 231.7,160.0 233.7,160.5 235.7,160.9 237.7,161.4 239.8,161.9 241.8,162.4 243.8,163.0 245.8,163.5 247.8,164.1 249.8,164.7 251.8,165.2 253.8,165.8 255.8,166.4 257.8,167.1 259.8,167.7 261.8,168.3 263.8,168.9" fill="none" stroke="#c26f7a" stroke-width="1.5"/>
</g>
<text transform="translate(309.50,305.20) scale(1.050,1.030)" text-anchor="end" font-size="21.5">16</text>
<text transform="translate(309.50,338.40) scale(1.000,1.030)" text-anchor="end" font-size="21.5">12</text>
<text transform="translate(309.50,377.10) scale(1.000,1.030)" text-anchor="end" font-size="21.5">8</text>
<text transform="translate(309.50,415.10) scale(1.000,1.030)" text-anchor="end" font-size="21.5">4</text>
<text transform="translate(309.50,448.20) scale(1.000,1.030)" text-anchor="end" font-size="21.5">0</text>
<text transform="translate(320.40,469.50) scale(1.000,1.030)" text-anchor="middle" font-size="21.5">0</text>
<text transform="translate(360.80,469.50) scale(1.000,1.030)" text-anchor="middle" font-size="21.5">20</text>
<text transform="translate(401.00,469.50) scale(1.000,1.030)" text-anchor="middle" font-size="21.5">40</text>
<text transform="translate(443.30,469.50) scale(1.000,1.030)" text-anchor="middle" font-size="21.5">60</text>
<text transform="translate(486.50,469.50) scale(1.000,1.030)" text-anchor="middle" font-size="21.5">80</text>
<text transform="translate(278.00,276.30) scale(1.000,1.030)" font-size="21.5">iv</text>
<circle cx="337.7" cy="377.3" r="5.7" fill="#f20c0c" stroke="#8a0a0a" stroke-width="0.9"/>
<text transform="translate(1.20,19.00) scale(1.040,1.030)" font-size="23.5">A</text>
<text transform="translate(21.00,250.00) rotate(-90) scale(1.040,1.030)" text-anchor="middle" font-size="22">Telomere length (kb)</text>
<text transform="translate(287.40,505.30) scale(1.055,1.030)" text-anchor="middle" font-size="21.5">Age (years)</text>
<text transform="translate(0.30,557.20) scale(1.060,1.030)" font-size="21">B</text>
<line x1="87.5" y1="565.6" x2="87.5" y2="879" stroke="#000" stroke-width="3.6"/>
<line x1="85.7" y1="876.8" x2="489.8" y2="876.8" stroke="#000" stroke-width="3.6"/>
<line x1="81" y1="876.8" x2="87.5" y2="876.8" stroke="#000" stroke-width="3.2"/>
<text transform="translate(67.30,884.40) scale(1.065,1.030)" text-anchor="end" font-size="21">0.0</text>
<line x1="81" y1="845.9" x2="87.5" y2="845.9" stroke="#000" stroke-width="3.2"/>
<text transform="translate(67.30,853.48) scale(1.065,1.030)" text-anchor="end" font-size="21">0.2</text>
<line x1="81" y1="815.0" x2="87.5" y2="815.0" stroke="#000" stroke-width="3.2"/>
<text transform="translate(67.30,822.56) scale(1.065,1.030)" text-anchor="end" font-size="21">0.4</text>
<line x1="81" y1="784.0" x2="87.5" y2="784.0" stroke="#000" stroke-width="3.2"/>
<text transform="translate(67.30,791.64) scale(1.065,1.030)" text-anchor="end" font-size="21">0.6</text>
<line x1="81" y1="753.1" x2="87.5" y2="753.1" stroke="#000" stroke-width="3.2"/>
<text transform="translate(67.30,760.72) scale(1.065,1.030)" text-anchor="end" font-size="21">0.8</text>
<line x1="81" y1="722.2" x2="87.5" y2="722.2" stroke="#000" stroke-width="3.2"/>
<text transform="translate(67.30,729.80) scale(1.065,1.030)" text-anchor="end" font-size="21">1.0</text>
<line x1="81" y1="691.3" x2="87.5" y2="691.3" stroke="#000" stroke-width="3.2"/>
<text transform="translate(67.30,698.88) scale(1.065,1.030)" text-anchor="end" font-size="21">1.2</text>
<line x1="81" y1="660.4" x2="87.5" y2="660.4" stroke="#000" stroke-width="3.2"/>
<text transform="translate(67.30,667.96) scale(1.065,1.030)" text-anchor="end" font-size="21">1.4</text>
<line x1="81" y1="629.4" x2="87.5" y2="629.4" stroke="#000" stroke-width="3.2"/>
<text transform="translate(67.30,637.04) scale(1.065,1.030)" text-anchor="end" font-size="21">1.6</text>
<line x1="81" y1="598.5" x2="87.5" y2="598.5" stroke="#000" stroke-width="3.2"/>
<text transform="translate(67.30,606.12) scale(1.065,1.030)" text-anchor="end" font-size="21">1.8</text>
<line x1="81" y1="567.6" x2="87.5" y2="567.6" stroke="#000" stroke-width="3.2"/>
<text transform="translate(67.30,575.20) scale(1.065,1.030)" text-anchor="end" font-size="21">2.0</text>
<line x1="87.4" y1="876.8" x2="87.4" y2="883.8" stroke="#000" stroke-width="3.4"/>
<text transform="translate(87.40,911.80) scale(1.000,1.030)" text-anchor="middle" font-size="21.5">0</text>
<line x1="141.0" y1="876.8" x2="141.0" y2="883.8" stroke="#000" stroke-width="3.4"/>
<text transform="translate(140.99,911.80) scale(1.000,1.030)" text-anchor="middle" font-size="21.5">10</text>
<line x1="194.6" y1="876.8" x2="194.6" y2="883.8" stroke="#000" stroke-width="3.4"/>
<text transform="translate(194.58,911.80) scale(1.000,1.030)" text-anchor="middle" font-size="21.5">20</text>
<line x1="248.2" y1="876.8" x2="248.2" y2="883.8" stroke="#000" stroke-width="3.4"/>
<text transform="translate(248.17,911.80) scale(1.000,1.030)" text-anchor="middle" font-size="21.5">30</text>
<line x1="301.8" y1="876.8" x2="301.8" y2="883.8" stroke="#000" stroke-width="3.4"/>
<text transform="translate(301.76,911.80) scale(1.000,1.030)" text-anchor="middle" font-size="21.5">40</text>
<line x1="355.4" y1="876.8" x2="355.4" y2="883.8" stroke="#000" stroke-width="3.4"/>
<text transform="translate(355.35,911.80) scale(1.000,1.030)" text-anchor="middle" font-size="21.5">50</text>
<line x1="408.9" y1="876.8" x2="408.9" y2="883.8" stroke="#000" stroke-width="3.4"/>
<text transform="translate(408.94,911.80) scale(1.000,1.030)" text-anchor="middle" font-size="21.5">60</text>
<line x1="462.5" y1="876.8" x2="462.5" y2="883.8" stroke="#000" stroke-width="3.4"/>
<text transform="translate(462.53,911.80) scale(1.000,1.030)" text-anchor="middle" font-size="21.5">70</text>
<line x1="111.9" y1="591.1" x2="462" y2="615.4" stroke="#505050" stroke-width="1.35"/>
<text transform="translate(467.40,621.50) scale(1.050,1.030)" font-size="21.5">99th</text>
<line x1="111.9" y1="627.7" x2="462" y2="656.9" stroke="#505050" stroke-width="1.35"/>
<text transform="translate(467.40,661.10) scale(1.050,1.030)" font-size="21.5">90th</text>
<line x1="111.9" y1="700.6" x2="462" y2="724.6" stroke="#505050" stroke-width="1.35"/>
<text transform="translate(467.40,736.50) scale(1.050,1.030)" font-size="21.5">50th</text>
<line x1="111.9" y1="735.6" x2="462" y2="768.3" stroke="#505050" stroke-width="1.35"/>
<text transform="translate(467.40,776.30) scale(1.050,1.030)" font-size="21.5">10th</text>
<line x1="111.9" y1="745.0" x2="462" y2="783.0" stroke="#505050" stroke-width="1.35"/>
<text transform="translate(467.40,796.10) scale(1.050,1.030)" font-size="21.5">1st</text>
<path d="M142.9,566.2L149.5,572.8M142.9,572.8L149.5,566.2M137.1,598.2L143.7,604.8M137.1,604.8L143.7,598.2M99.4,618.5L106.0,625.1M99.4,625.1L106.0,618.5M131.7,631.8L138.3,638.4M131.7,638.4L138.3,631.8M184.9,614.0L191.6,620.5M184.9,620.5L191.6,614.0M238.7,578.0L245.3,584.5M238.7,584.5L245.3,578.0M297.9,582.2L304.6,588.8M297.9,588.8L304.6,582.2M222.9,615.0L229.6,621.5M222.9,621.5L229.6,615.0M243.7,631.0L250.3,637.5M243.7,637.5L250.3,631.0M254.9,643.2L261.6,649.8M254.9,649.8L261.6,643.2M404.2,603.3L410.8,609.9M404.2,609.9L410.8,603.3M367.3,640.0L373.9,646.5M367.3,646.5L373.9,640.0M89.0,646.7L95.5,653.3M89.0,653.3L95.5,646.7M147.5,645.1L154.1,651.7M147.5,651.7L154.1,645.1M190.8,646.8L197.4,653.4M190.8,653.4L197.4,646.8M110.7,658.2L117.3,664.8M110.7,664.8L117.3,658.2M147.8,659.8L154.4,666.4M147.8,666.4L154.4,659.8M142.5,666.0L149.1,672.6M142.5,672.6L149.1,666.0M104.8,683.2L111.4,689.8M104.8,689.8L111.4,683.2M126.7,683.0L133.3,689.5M126.7,689.5L133.3,683.0M126.7,689.2L133.3,695.8M126.7,695.8L133.3,689.2M190.8,677.1L197.4,683.7M190.8,683.7L197.4,677.1M201.2,684.3L207.8,690.9M201.2,690.9L207.8,684.3M185.4,690.7L192.0,697.3M185.4,697.3L192.0,690.7M201.3,696.5L207.9,703.1M201.3,703.1L207.9,696.5M153.1,693.7L159.7,700.3M153.1,700.3L159.7,693.7M163.9,698.9L170.5,705.5M163.9,705.5L170.5,698.9M88.6,699.0L95.2,705.5M88.6,705.5L95.2,699.0M94.8,703.6L101.4,710.2M94.8,710.2L101.4,703.6M94.8,711.1L101.4,717.7M94.8,717.7L101.4,711.1M121.1,703.6L127.7,710.2M121.1,710.2L127.7,703.6M291.7,672.5L298.3,679.0M291.7,679.0L298.3,672.5M243.7,682.5L250.3,689.0M243.7,689.0L250.3,682.5M233.7,694.3L240.3,700.9M233.7,700.9L240.3,694.3M260.1,691.3L266.7,697.9M260.1,697.9L266.7,691.3M249.6,699.9L256.2,706.5M249.6,706.5L256.2,699.9M319.2,689.3L325.8,695.9M319.2,695.9L325.8,689.3M324.6,694.8L331.2,701.4M324.6,701.4L331.2,694.8M415.4,669.2L422.1,675.8M415.4,675.8L422.1,669.2M441.9,669.9L448.5,676.5M441.9,676.5L448.5,669.9M361.9,687.5L368.5,694.1M361.9,694.1L368.5,687.5M361.9,694.4L368.5,701.0M361.9,701.0L368.5,694.4M366.9,697.3L373.5,703.9M366.9,703.9L373.5,697.3M217.6,703.3L224.2,709.9M217.6,709.9L224.2,703.3M206.8,710.7L213.4,717.3M206.8,717.3L213.4,710.7M180.0,712.7L186.6,719.3M180.0,719.3L186.6,712.7M147.8,716.3L154.4,722.9M147.8,722.9L154.4,716.3M195.9,719.1L202.5,725.7M195.9,725.7L202.5,719.1M121.1,725.5L127.7,732.0M121.1,732.0L127.7,725.5M94.8,729.0L101.4,735.6M94.8,735.6L101.4,729.0M303.0,704.9L309.6,711.5M303.0,711.5L309.6,704.9M287.2,707.0L293.8,713.6M287.2,713.6L293.8,707.0M287.2,719.0L293.8,725.6M287.2,725.6L293.8,719.0M227.3,717.0L233.9,723.6M227.3,723.6L233.9,717.0M233.3,715.5L239.9,722.1M233.3,722.1L239.9,715.5M265.6,715.6L272.2,722.2M265.6,722.2L272.2,715.6M254.9,723.0L261.5,729.6M254.9,729.6L261.5,723.0M223.0,726.4L229.6,733.0M223.0,733.0L229.6,726.4M233.7,729.1L240.3,735.7M233.7,735.7L240.3,729.1M244.1,735.2L250.7,741.8M244.1,741.8L250.7,735.2M259.6,735.2L266.2,741.8M259.6,741.8L266.2,735.2M264.3,732.5L270.9,739.1M264.3,739.1L270.9,732.5M259.6,739.2L266.2,745.8M259.6,745.8L266.2,739.2M292.0,728.4L298.6,735.0M292.0,735.0L298.6,728.4M292.0,733.3L298.6,739.9M292.0,739.9L298.6,733.3M329.7,729.1L336.3,735.7M329.7,735.7L336.3,729.1M313.8,739.3L320.4,745.9M313.8,745.9L320.4,739.3M313.8,743.8L320.4,750.4M313.8,750.4L320.4,743.8M313.8,748.5L320.4,755.1M313.8,755.1L320.4,748.5M324.3,740.2L330.9,746.8M324.3,746.8L330.9,740.2M355.9,729.4L362.6,736.0M355.9,736.0L362.6,729.4M367.4,729.4L374.1,736.0M367.4,736.0L374.1,729.4M436.0,705.2L442.6,711.8M436.0,711.8L442.6,705.2M431.5,709.8L438.1,716.4M431.5,716.4L438.1,709.8M458.0,717.7L464.6,724.3M458.0,724.3L464.6,717.7M169.2,732.9L175.8,739.5M169.2,739.5L175.8,732.9M174.9,732.9L181.5,739.5M174.9,739.5L181.5,732.9M174.9,740.8L181.5,747.4M174.9,747.4L181.5,740.8M147.7,743.0L154.3,749.6M147.7,749.6L154.3,743.0M147.7,747.0L154.3,753.6M147.7,753.6L154.3,747.0M244.1,748.5L250.7,755.1M244.1,755.1L250.7,748.5M249.5,749.2L256.1,755.8M249.5,755.8L256.1,749.2M227.9,757.9L234.5,764.5M227.9,764.5L234.5,757.9M227.9,761.3L234.5,767.9M227.9,767.9L234.5,761.3M308.4,755.3L315.0,761.9M308.4,761.9L315.0,755.3M287.2,759.3L293.8,765.9M287.2,765.9L293.8,759.3M276.4,770.1L283.0,776.7M276.4,776.7L283.0,770.1M313.8,784.9L320.4,791.5M313.8,791.5L320.4,784.9M206.8,774.1L213.4,780.7M206.8,780.7L213.4,774.1M431.2,746.3L437.8,752.9M431.2,752.9L437.8,746.3M441.7,753.7L448.3,760.3M441.7,760.3L448.3,753.7M399.2,763.7L405.8,770.3M399.2,770.3L405.8,763.7M416.2,780.2L422.8,786.8M416.2,786.8L422.8,780.2" stroke="#a0a0a0" stroke-width="2.5" fill="none"/>
<rect x="172.6" y="752.4" width="11.2" height="11.2" fill="#000"/>
<polygon points="167.5,759.5 161.9,770.8 173.1,770.8" fill="#000"/>
<circle cx="306.6" cy="793.7" r="5.9" fill="#000"/>
<text transform="translate(23.60,715.60) rotate(-90) scale(1.035,1.030)" text-anchor="middle" font-size="22">Relative T/S ratio</text>
<text transform="translate(287.90,944.50) scale(1.060,1.030)" text-anchor="middle" font-size="21.5">Age (years)</text>
<rect x="62.8" y="970.6" width="11" height="11" fill="#000"/>
<text transform="translate(79.00,983.00) scale(1.020,1.030)" font-size="21.5">Index</text>
<circle cx="163.5" cy="976.3" r="5.7" fill="#000"/>
<text transform="translate(174.80,983.30) scale(1.020,1.030)" font-size="21.5">Mother</text>
<polygon points="275.5,970.7 269.4,982.2 281.7,982.2" fill="#000"/>
<text transform="translate(286.30,983.00) scale(1.020,1.030)" font-size="21.5">Brother</text>
<path d="M389.7,972.9000000000001L396.3,979.5M389.7,979.5L396.3,972.9000000000001" stroke="#a0a0a0" stroke-width="2" fill="none"/>
<text transform="translate(403.80,983.00) scale(1.020,1.030)" font-size="21.5">Control</text>
<path d="M36.65,63.91L41.60,63.91L41.60,68.43L36.65,68.43ZM44.81,63.91L49.47,63.91L49.47,68.43L44.81,68.43ZM37.85,97.11L42.56,97.11L42.56,101.63L37.85,101.63ZM45.61,97.11L50.05,97.11L50.05,101.63L45.61,101.63ZM284.65,63.91L289.60,63.91L289.60,68.43L284.65,68.43ZM292.81,63.91L297.47,63.91L297.47,68.43L292.81,68.43ZM285.85,97.11L290.56,97.11L290.56,101.63L285.85,101.63ZM293.61,97.11L298.05,97.11L298.05,101.63L293.61,101.63ZM36.65,301.81L41.60,301.81L41.60,306.33L36.65,306.33ZM44.81,301.81L49.47,301.81L49.47,306.33L44.81,306.33ZM37.85,335.01L42.56,335.01L42.56,339.53L37.85,339.53ZM45.61,335.01L50.05,335.01L50.05,339.53L45.61,339.53ZM284.65,301.81L289.60,301.81L289.60,306.33L284.65,306.33ZM292.81,301.81L297.47,301.81L297.47,306.33L292.81,306.33ZM285.85,335.01L290.56,335.01L290.56,339.53L285.85,339.53ZM293.61,335.01L298.05,335.01L298.05,339.53L293.61,339.53ZM36.44,726.46L41.37,726.46L41.37,730.93L36.44,730.93ZM44.54,726.46L49.19,726.46L49.19,730.93L44.54,730.93ZM36.44,695.54L41.37,695.54L41.37,700.01L36.44,700.01ZM44.54,695.54L49.19,695.54L49.19,700.01L44.54,700.01ZM36.44,664.62L41.37,664.62L41.37,669.09L36.44,669.09ZM44.54,664.62L49.19,664.62L49.19,669.09L44.54,669.09ZM36.44,633.70L41.37,633.70L41.37,638.17L36.44,638.17ZM44.54,633.70L49.19,633.70L49.19,638.17L44.54,638.17ZM36.44,602.78L41.37,602.78L41.37,607.25L36.44,607.25ZM44.54,602.78L49.19,602.78L49.19,607.25L44.54,607.25ZM129.29,908.41L134.01,908.41L134.01,912.93L129.29,912.93ZM137.06,908.41L141.50,908.41L141.50,912.93L137.06,912.93ZM467.67,772.91L472.62,772.91L472.62,777.43L467.67,777.43ZM475.82,772.91L480.48,772.91L480.48,777.43L475.82,777.43ZM467.67,792.71L472.62,792.71L472.62,797.23L467.67,797.23ZM475.82,792.71L480.48,792.71L480.48,797.23L475.82,797.23Z" fill="#fff"/>
</svg>
</body></html>
